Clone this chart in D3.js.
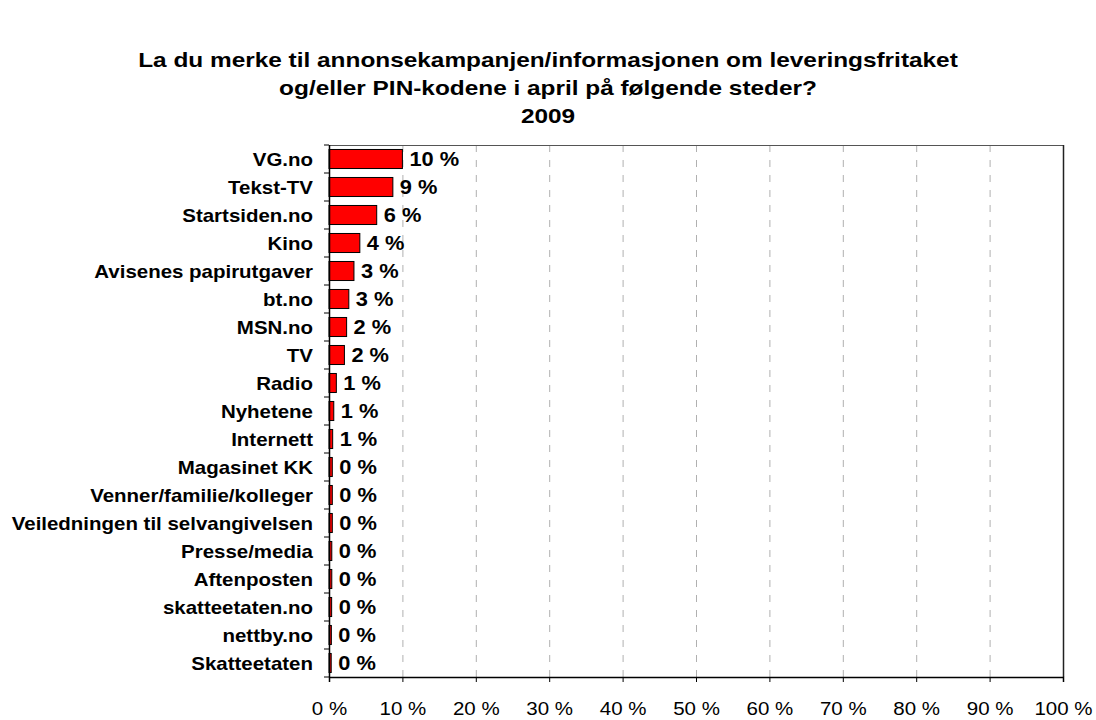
<!DOCTYPE html>
<html>
<head>
<meta charset="utf-8">
<script src="https://cdn.jsdelivr.net/npm/d3@7"></script>
<style>
  body { margin: 0; background: #fff; }
  svg text { font-family: "Liberation Sans", Arial, sans-serif; }
</style>
</head>
<body>
<div id="chart"></div>
<script>
// Categories and values (percent)
const categories = ['VG.no', 'Tekst-TV', 'Startsiden.no', 'Kino', 'Avisenes papirutgaver', 'bt.no',
  'MSN.no', 'TV', 'Radio', 'Nyhetene', 'Internett', 'Magasinet KK', 'Venner/familie/kolleger',
  'Veiledningen til selvangivelsen', 'Presse/media', 'Aftenposten', 'skatteetaten.no', 'nettby.no', 'Skatteetaten'];
const values = [10, 8.7, 6.5, 4.2, 3.4, 2.7, 2.4, 2.1, 1.0, 0.65, 0.5, 0.45, 0.45, 0.45, 0.38, 0.38, 0.36, 0.32, 0.3];
const valueLabels = ['10 %', '9 %', '6 %', '4 %', '3 %', '3 %', '2 %', '2 %', '1 %', '1 %', '1 %',
  '0 %', '0 %', '0 %', '0 %', '0 %', '0 %', '0 %', '0 %'];
const xTicks = [0, 10, 20, 30, 40, 50, 60, 70, 80, 90, 100];
const titleLines = ['La du merke til annonsekampanjen/informasjonen om leveringsfritaket',
  'og/eller PIN-kodene i april på følgende steder?', '2009'];

const width = 1096;
const height = 720;
const margin = { top: 145, right: 33, bottom: 43, left: 329 };

const svg = d3.select('#chart').append('svg')
    .attr('width', width)
    .attr('height', height);

// Title (text in the original is drawn a bit wide, so stretch it)
svg.append('g').selectAll('text')
    .data(titleLines)
    .enter().append('text')
    .attr('transform', (d, i) => `translate(548, ${67 + i * 28}) scale(1.19, 1)`)
    .attr('text-anchor', 'middle')
    .style('font-size', '20.5px')
    .style('font-weight', 'bold')
    .text(d => d);

const xScale = d3.scaleLinear()
    .domain([0, 100])
    .range([margin.left, width - margin.right]);

const yScale = d3.scaleBand()
    .domain(categories)
    .range([margin.top, height - margin.bottom])
    .paddingInner(0.32)
    .paddingOuter(0.16);

// Gridlines
svg.append('g').selectAll('line')
    .data(xTicks.slice(1, -1))
    .enter().append('line')
    .attr('x1', d => xScale(d) + 0.5)
    .attr('x2', d => xScale(d) + 0.5)
    .attr('y1', margin.top)
    .attr('y2', height - margin.bottom)
    .attr('stroke', '#b0b0b0')
    .attr('stroke-width', 1)
    .attr('stroke-dasharray', '7,8');

// Plot frame (top and right)
svg.append('line')
    .attr('x1', margin.left).attr('x2', width - margin.right)
    .attr('y1', margin.top + 0.5).attr('y2', margin.top + 0.5)
    .attr('stroke', '#555').attr('stroke-width', 1);
svg.append('line')
    .attr('x1', width - margin.right + 0.5).attr('x2', width - margin.right + 0.5)
    .attr('y1', margin.top).attr('y2', height - margin.bottom)
    .attr('stroke', '#222').attr('stroke-width', 1.5);

// Bars
svg.selectAll('.bar')
    .data(categories)
    .enter().append('rect')
    .attr('class', 'bar')
    .attr('x', xScale(0))
    .attr('y', d => yScale(d))
    .attr('width', (d, i) => xScale(values[i]) - xScale(0))
    .attr('height', yScale.bandwidth())
    .attr('fill', '#ff0000')
    .attr('stroke', '#000')
    .attr('stroke-width', 1);

// Value labels
svg.selectAll('.val')
    .data(categories)
    .enter().append('text')
    .attr('class', 'val')
    .attr('transform', (d, i) =>
        `translate(${xScale(values[i]) + 7}, ${yScale(d) + yScale.bandwidth() / 2}) scale(1.12, 1)`)
    .attr('dy', '0.36em')
    .style('font-size', '19.5px')
    .style('font-weight', 'bold')
    .text((d, i) => valueLabels[i]);

// Y axis with ticks at band boundaries
const step = yScale.step();
const yAxis = svg.append('g');
yAxis.append('line')
    .attr('x1', margin.left + 0.5).attr('x2', margin.left + 0.5)
    .attr('y1', margin.top).attr('y2', height - margin.bottom)
    .attr('stroke', '#000').attr('stroke-width', 1.5);
yAxis.selectAll('.ytick')
    .data(d3.range(categories.length + 1))
    .enter().append('line')
    .attr('class', 'ytick')
    .attr('x1', margin.left - 5).attr('x2', margin.left)
    .attr('y1', i => margin.top + i * step)
    .attr('y2', i => margin.top + i * step)
    .attr('stroke', '#000');
yAxis.selectAll('.ylab')
    .data(categories)
    .enter().append('text')
    .attr('class', 'ylab')
    .attr('transform', d =>
        `translate(${margin.left - 16}, ${yScale(d) + yScale.bandwidth() / 2}) scale(1.1, 1)`)
    .attr('dy', '0.36em')
    .attr('text-anchor', 'end')
    .style('font-size', '18.6px')
    .style('font-weight', 'bold')
    .text(d => d);

// X axis
const xAxis = svg.append('g')
    .attr('transform', `translate(0, ${height - margin.bottom})`)
    .call(d3.axisBottom(xScale).tickValues(xTicks).tickSize(5).tickPadding(20)
        .tickFormat(d => d + ' %'));
xAxis.select('.domain').attr('stroke-width', 1.5);
xAxis.selectAll('text')
    .attr('transform', 'scale(1.14, 1)')
    .style('font-size', '18px')
    .style('font-family', '"Liberation Sans", Arial, sans-serif')
    .attr('fill', '#000');
</script>
</body>
</html>
